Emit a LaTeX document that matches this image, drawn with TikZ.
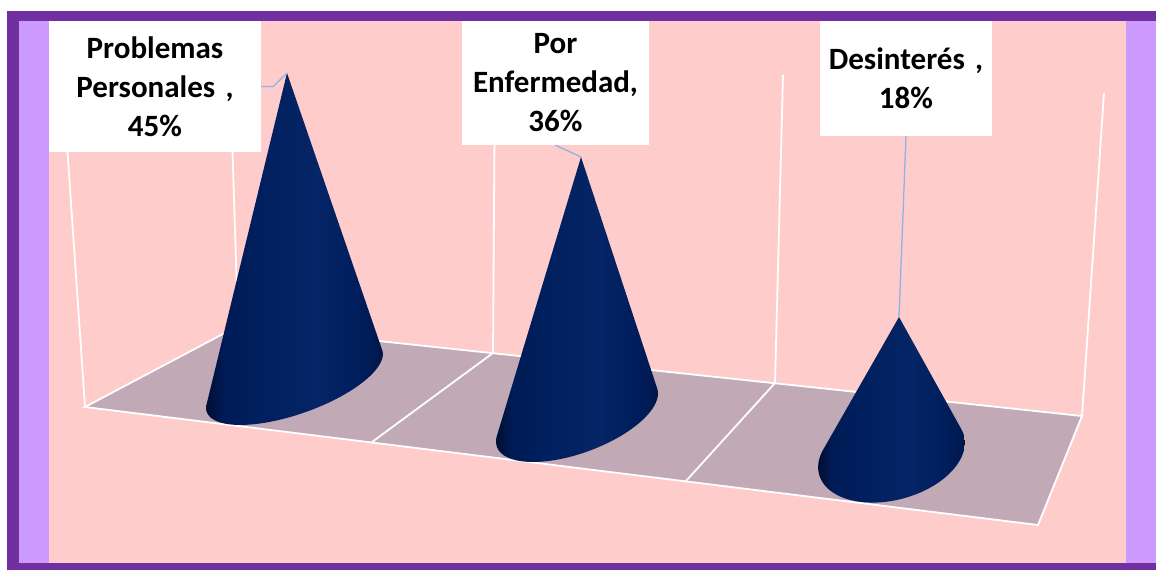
\documentclass[tikz,border=0pt]{standalone}
\usepackage{fontspec}
\setmainfont{Carlito}
\definecolor{purp}{HTML}{7030A0}
\definecolor{lav}{HTML}{CC99FF}
\definecolor{pinkbg}{HTML}{FFCCCC}
\definecolor{floorc}{HTML}{C1AAB6}
\definecolor{leadc}{HTML}{8EB4E3}
\definecolor{cA}{HTML}{000F33}
\definecolor{cB}{HTML}{001B55}
\definecolor{cC}{HTML}{001F5E}
\definecolor{cD}{HTML}{052566}
\definecolor{cE}{HTML}{001646}
\pgfdeclarehorizontalshading{conesh}{100bp}{color(0bp)=(cA); color(25bp)=(cA); color(30bp)=(cB); color(40bp)=(cC); color(57bp)=(cD); color(66bp)=(cC); color(72bp)=(cB); color(75bp)=(cE); color(100bp)=(cE)}
\tikzset{
  wall/.style={draw=white, line width=1.8pt},
  lead/.style={draw=leadc, line width=1.3pt},
  lbl/.style={fill=white, inner sep=0pt, align=center, font=\bfseries\fontsize{31}{39}\selectfont},
  conefill/.style={shading=conesh}
}
\newcommand\conebody[8]{% cx cy a b phi t1 t2 apex
  \shade[conefill] plot[domain=#6:#7, samples=80, variable=\t]
    ({#1 + #3*cos(\t)*cos(#5) + #4*sin(\t)*sin(#5)},
     {#2 - #3*cos(\t)*sin(#5) + #4*sin(\t)*cos(#5)}) -- (#8) -- cycle;}
\begin{document}
\begin{tikzpicture}[x=1pt,y=-1pt]
\useasboundingbox (0,0) rectangle (1156,570);
\fill[white] (0,0) rectangle (1156,570);
\fill[purp] (7,11) rectangle (1156,570);
\fill[lav] (19,21) rectangle (1156,563);
\fill[pinkbg] (49,21) rectangle (1126,563);
% floor
\coordinate (fl) at (85,407);
\coordinate (bl) at (238,326);
\coordinate (br) at (1082,416);
\coordinate (fr) at (1038,525);
\fill[floorc] (fl) -- (bl) -- (br) -- (fr) -- cycle;
% wall lines
\draw[wall] (fl) -- (66,130);
\draw[wall] (bl) -- (229,40);
\draw[wall] (493,353) -- (495,60);
\draw[wall] (775,383) -- (783,75);
\draw[wall] (br) -- (1104,93);
% floor outline
\draw[wall] (fl) -- (bl) -- (br) -- (fr) -- cycle;
\draw[wall] (372,442) -- (493,353);
\draw[wall] (686,481) -- (775,383);
% cones
\coordinate (apex1) at (287,73);
\coordinate (apex2) at (581,157);
\coordinate (apex3) at (899,317);
\conebody{294.5}{381}{93}{33}{19.5}{0.19}{193.05}{apex1}
\conebody{577}{417.5}{85.3}{35.5}{20.2}{0.82}{197.4}{apex2}
\conebody{891.5}{455}{75}{45}{15}{-8.67}{210.9}{apex3}
% labels
\node[lbl, minimum width=212pt, minimum height=131pt, text width=212pt] (lab1) at (155,86.5) {Problemas\\Personales ,\\45\%};
\node[lbl, minimum width=187pt, minimum height=124pt, text width=187pt] (lab2) at (555.5,83) {Por\\Enfermedad,\\36\%};
\node[lbl, minimum width=172pt, minimum height=115pt, text width=172pt] (lab3) at (906,78.5) {Desinterés ,\\18\%};
% leaders
\draw[lead] (lab1.east) -- ++(12,0) -- (apex1);
\draw[lead] (lab2.south) -- (apex2);
\draw[lead] (lab3.south) -- (apex3);
\end{tikzpicture}
\end{document}
